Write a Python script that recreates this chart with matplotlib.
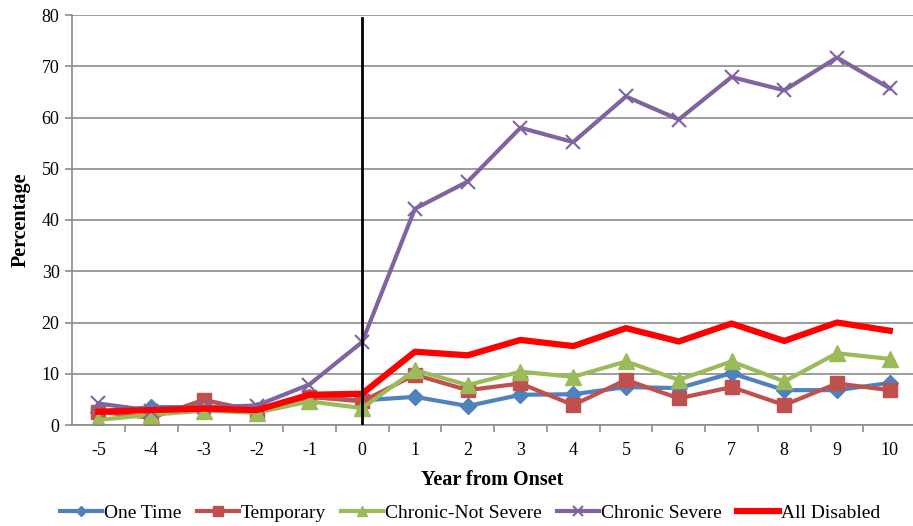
import matplotlib
matplotlib.use("Agg")
import matplotlib.pyplot as plt
from matplotlib.ticker import FixedLocator

plt.rcParams['font.family'] = ['Liberation Serif', 'DejaVu Serif']
plt.rcParams['axes.unicode_minus'] = False

years = [-5, -4, -3, -2, -1, 0, 1, 2, 3, 4, 5, 6, 7, 8, 9, 10]
one_time = [2.5, 3.5, 3.5, 3.0, 5.5, 4.8, 5.5, 3.7, 5.9, 6.0, 7.4, 7.2, 10.1, 6.8, 6.8, 8.2]
temporary = [2.6, 1.4, 4.9, 2.7, 5.5, 4.6, 9.8, 6.8, 8.1, 3.9, 8.8, 5.2, 7.4, 3.9, 8.1, 6.8]
chronic_not_severe = [1.0, 2.0, 2.8, 2.4, 4.6, 3.3, 10.7, 7.8, 10.4, 9.4, 12.4, 8.8, 12.4, 8.5, 14.0, 12.9]
chronic_severe = [4.2, 2.8, 3.5, 3.8, 7.9, 16.2, 42.2, 47.5, 58.0, 55.2, 64.1, 59.6, 67.9, 65.3, 71.7, 65.7]
all_disabled = [2.6, 2.9, 3.2, 2.9, 5.9, 6.1, 14.3, 13.6, 16.6, 15.4, 18.9, 16.3, 19.8, 16.4, 20.0, 18.4]
y_ticks = [0, 10, 20, 30, 40, 50, 60, 70, 80]

fig = plt.figure(figsize=(9.13, 5.26), dpi=100)
ax = fig.add_axes([72 / 913, 101 / 526, 841 / 913, 410 / 526])

ax.plot(years, one_time, color='#4F81BD', lw=3, marker='D', ms=8, label='One Time')
ax.plot(years, temporary, color='#C0504D', lw=3, marker='s', ms=10, label='Temporary')
ax.plot(years, chronic_not_severe, color='#9BBB59', lw=3, marker='^', ms=11, label='Chronic-Not Severe')
ax.plot(years, chronic_severe, color='#8064A2', lw=3, marker='x', ms=10, mew=1.5, label='Chronic Severe')
ax.plot(years, all_disabled, color='#FF0000', lw=4.5, label='All Disabled')

# onset marker
ax.plot([0, 0], [0, 79.5], color='black', lw=2, zorder=5)

ax.set_xlim(-5.5, 10.44)
ax.set_ylim(0, 80)
ax.set_yticks(y_ticks)
ax.yaxis.grid(True, color='#8C8C8C', lw=1.2)
ax.set_axisbelow(True)

ax.set_xticks(years)
ax.xaxis.set_minor_locator(FixedLocator([y + 0.5 for y in years[:-1]]))
ax.tick_params(axis='x', which='major', length=0, labelsize=13, pad=12)
ax.tick_params(axis='x', which='minor', length=5, color='#8C8C8C', width=1.2)
ax.tick_params(axis='y', length=5, color='#8C8C8C', width=1.2, labelsize=13, pad=4)

for s in ['top', 'right']:
    ax.spines[s].set_visible(False)
for s in ['left', 'bottom']:
    ax.spines[s].set_color('#8C8C8C')
    ax.spines[s].set_linewidth(1.2)

ax.set_xlabel('Year from Onset', fontsize=14.5, fontweight='bold', labelpad=8)
ax.set_ylabel('Percentage', fontsize=14.5, fontweight='bold', labelpad=8)

handles, labels = ax.get_legend_handles_labels()
fig.legend(handles, labels, loc='center', bbox_to_anchor=(0.515, 0.024), ncol=5,
           frameon=False, fontsize=14, handlelength=2.15, handletextpad=0.1,
           columnspacing=0.8, markerscale=0.7, borderpad=0)

fig.savefig('out.png', dpi=100)
